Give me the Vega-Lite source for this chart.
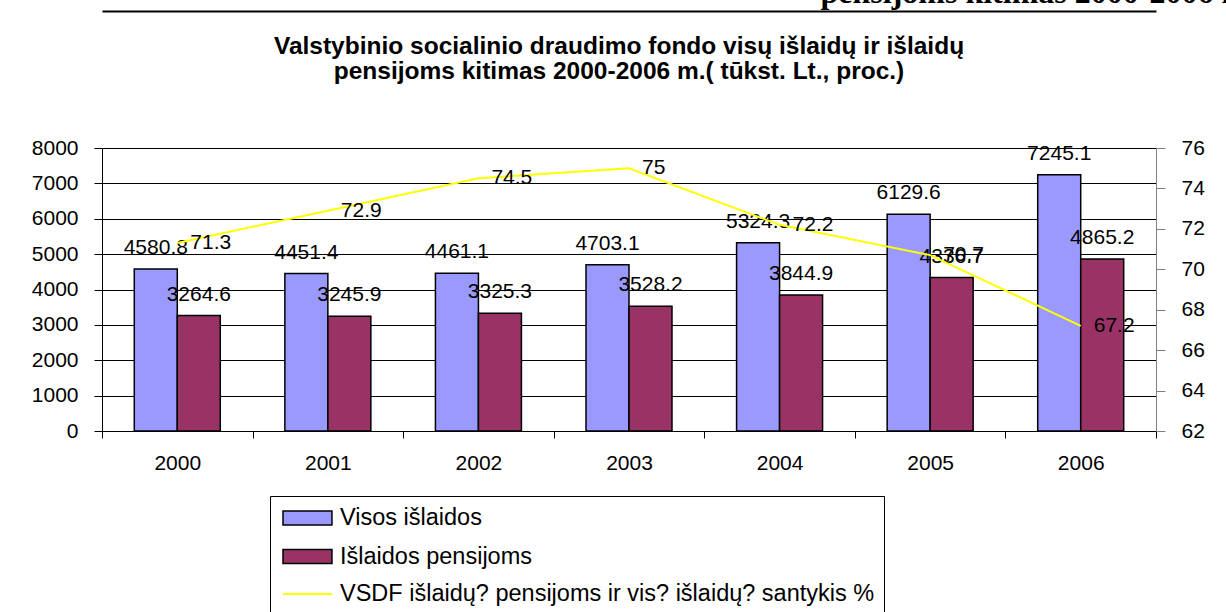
{
  "$schema": "https://vega.github.io/schema/vega-lite/v6.json",
  "width": 1054,
  "height": 283,
  "autosize": {"type": "none"},
  "padding": {"left": 102, "top": 148, "right": 70, "bottom": 181},
  "background": "white",
  "config": {"font": "Liberation Sans", "view": {"stroke": null}},
  "title": {
    "text": ["Valstybinio socialinio draudimo fondo visų išlaidų ir išlaidų", "pensijoms kitimas 2000-2006 m.( tūkst. Lt., proc.)"],
    "font": "Liberation Sans",
    "fontSize": 24.5,
    "fontWeight": "bold",
    "color": "black",
    "anchor": "middle",
    "dx": -10,
    "dy": 172,
    "offset": 64,
    "lineHeight": 25
  },
  "datasets": {
    "bars": [
      {"year": "2000", "series": "Visos išlaidos", "value": 4580.8},
      {"year": "2000", "series": "Išlaidos pensijoms", "value": 3264.6},
      {"year": "2001", "series": "Visos išlaidos", "value": 4451.4},
      {"year": "2001", "series": "Išlaidos pensijoms", "value": 3245.9},
      {"year": "2002", "series": "Visos išlaidos", "value": 4461.1},
      {"year": "2002", "series": "Išlaidos pensijoms", "value": 3325.3},
      {"year": "2003", "series": "Visos išlaidos", "value": 4703.1},
      {"year": "2003", "series": "Išlaidos pensijoms", "value": 3528.2},
      {"year": "2004", "series": "Visos išlaidos", "value": 5324.3},
      {"year": "2004", "series": "Išlaidos pensijoms", "value": 3844.9},
      {"year": "2005", "series": "Visos išlaidos", "value": 6129.6},
      {"year": "2005", "series": "Išlaidos pensijoms", "value": 4336.7},
      {"year": "2006", "series": "Visos išlaidos", "value": 7245.1},
      {"year": "2006", "series": "Išlaidos pensijoms", "value": 4865.2}
    ],
    "ratio": [
      {"year": "2000", "ratio": 71.3},
      {"year": "2001", "ratio": 72.9},
      {"year": "2002", "ratio": 74.5},
      {"year": "2003", "ratio": 75},
      {"year": "2004", "ratio": 72.2},
      {"year": "2005", "ratio": 70.7},
      {"year": "2006", "ratio": 67.2}
    ]
  },
  "layer": [
    {
      "data": {"name": "bars"},
      "layer": [
        {
          "mark": {"type": "bar", "stroke": "black", "strokeWidth": 1.5},
          "encoding": {
            "x": {
              "field": "year", "type": "nominal",
              "scale": {"paddingInner": 0, "paddingOuter": 0},
              "axis": {
                "orient": "bottom", "title": null, "tickBand": "extent", "grid": false,
                "domainColor": "black", "tickColor": "black", "tickSize": 7,
                "labelFont": "Liberation Sans", "labelFontSize": 21, "labelColor": "black",
                "labelPadding": 14, "labelAngle": 0
              }
            },
            "xOffset": {
              "field": "series", "type": "nominal",
              "scale": {"domain": ["Visos išlaidos", "Išlaidos pensijoms"], "paddingInner": 0, "paddingOuter": 0.751}
            },
            "y": {
              "field": "value", "type": "quantitative",
              "scale": {"domain": [0, 8000]},
              "axis": {
                "orient": "left", "title": null, "format": "d", "labelOverlap": false,
                "values": [0, 1000, 2000, 3000, 4000, 5000, 6000, 7000, 8000],
                "grid": true, "gridColor": "black", "gridWidth": 1,
                "domainColor": "black", "tickColor": "black", "tickSize": 8,
                "labelFont": "Liberation Sans", "labelFontSize": 21, "labelColor": "black", "labelPadding": 16
              }
            },
            "fill": {
              "field": "series", "type": "nominal",
              "scale": {
                "domain": ["Visos išlaidos", "Išlaidos pensijoms"],
                "range": ["#9999FF", "#993366"]
              },
              "legend": {
                "orient": "none", "legendX": 168, "legendY": 348,
                "title": null, "direction": "vertical",
                "padding": 9,
                "labelFont": "Liberation Sans", "labelFontSize": 23.5, "labelColor": "black",
                "labelLimit": 1000, "labelOffset": 35,
                "symbolSize": 576, "rowPadding": 13.5,
                "symbolType": "M-0.75,-0.58H3.33V0.58H-0.75Z",
                "symbolStrokeColor": "black", "symbolStrokeWidth": 1.5, "symbolOpacity": 1
              }
            }
          }
        },
        {
          "mark": {"type": "text", "fontSize": 21, "baseline": "middle", "dy": -21, "color": "black", "font": "Liberation Sans"},
          "encoding": {
            "x": {"field": "year", "type": "nominal"},
            "xOffset": {"field": "series", "type": "nominal"},
            "y": {
              "field": "value", "type": "quantitative",
              "scale": {"domain": [0, 8000]},
              "axis": {
                "orient": "left", "title": null, "format": "d", "labelOverlap": false,
                "values": [0, 1000, 2000, 3000, 4000, 5000, 6000, 7000, 8000],
                "grid": true, "gridColor": "black", "gridWidth": 1,
                "domainColor": "black", "tickColor": "black", "tickSize": 8,
                "labelFont": "Liberation Sans", "labelFontSize": 21, "labelColor": "black", "labelPadding": 16
              }
            },
            "text": {"field": "value", "type": "nominal"}
          }
        }
      ]
    },
    {
      "data": {"name": "ratio"},
      "layer": [
        {
          "mark": {"type": "line", "strokeWidth": 2},
          "encoding": {
            "x": {
              "field": "year", "type": "nominal",
              "axis": {
                "orient": "top", "offset": 137, "domain": true, "domainColor": "black", "domainWidth": 2,
                "ticks": false, "labels": false, "grid": false,
                "title": "pensijoms kitimas 2000-2006 m",
                "titleFont": "Liberation Serif", "titleFontSize": 32, "titleFontWeight": "bold", "titleColor": "black",
                "titleAlign": "left", "titleBaseline": "alphabetic", "titleX": 718, "titleY": -9
              }
            },
            "y": {
              "field": "ratio", "type": "quantitative",
              "scale": {"domain": [62, 76]},
              "axis": {
                "orient": "right", "title": null,
                "values": [62, 64, 66, 68, 70, 72, 74, 76],
                "grid": false, "domainColor": "#808080", "tickColor": "#808080", "tickSize": 9,
                "labelFont": "Liberation Sans", "labelFontSize": 21, "labelColor": "black", "labelPadding": 16
              }
            },
            "stroke": {
              "datum": "VSDF išlaidų? pensijoms ir vis? išlaidų? santykis %",
              "scale": {"range": ["#FFFF00"]},
              "legend": {
                "orient": "none", "legendX": 168, "legendY": 348,
                "title": " ", "titleFontSize": 60, "titlePadding": 16,
                "direction": "vertical",
                "strokeColor": "black", "padding": 9,
                "labelFont": "Liberation Sans", "labelFontSize": 23.5, "labelColor": "black",
                "labelLimit": 1000, "labelOffset": 35,
                "symbolSize": 576,
                "symbolType": "M-0.75,0H3.33",
                "symbolStrokeWidth": 2
              }
            }
          }
        },
        {
          "mark": {"type": "text", "align": "left", "dx": 13, "baseline": "middle", "fontSize": 21, "color": "black", "font": "Liberation Sans"},
          "encoding": {
            "x": {"field": "year", "type": "nominal"},
            "y": {
              "field": "ratio", "type": "quantitative",
              "scale": {"domain": [62, 76]},
              "axis": {
                "orient": "right", "title": null,
                "values": [62, 64, 66, 68, 70, 72, 74, 76],
                "grid": false, "domainColor": "#808080", "tickColor": "#808080", "tickSize": 9,
                "labelFont": "Liberation Sans", "labelFontSize": 21, "labelColor": "black", "labelPadding": 16
              }
            },
            "text": {"field": "ratio", "type": "nominal"}
          }
        }
      ]
    }
  ],
  "resolve": {"scale": {"y": "independent"}, "axis": {"x": "independent", "y": "independent"}}
}
